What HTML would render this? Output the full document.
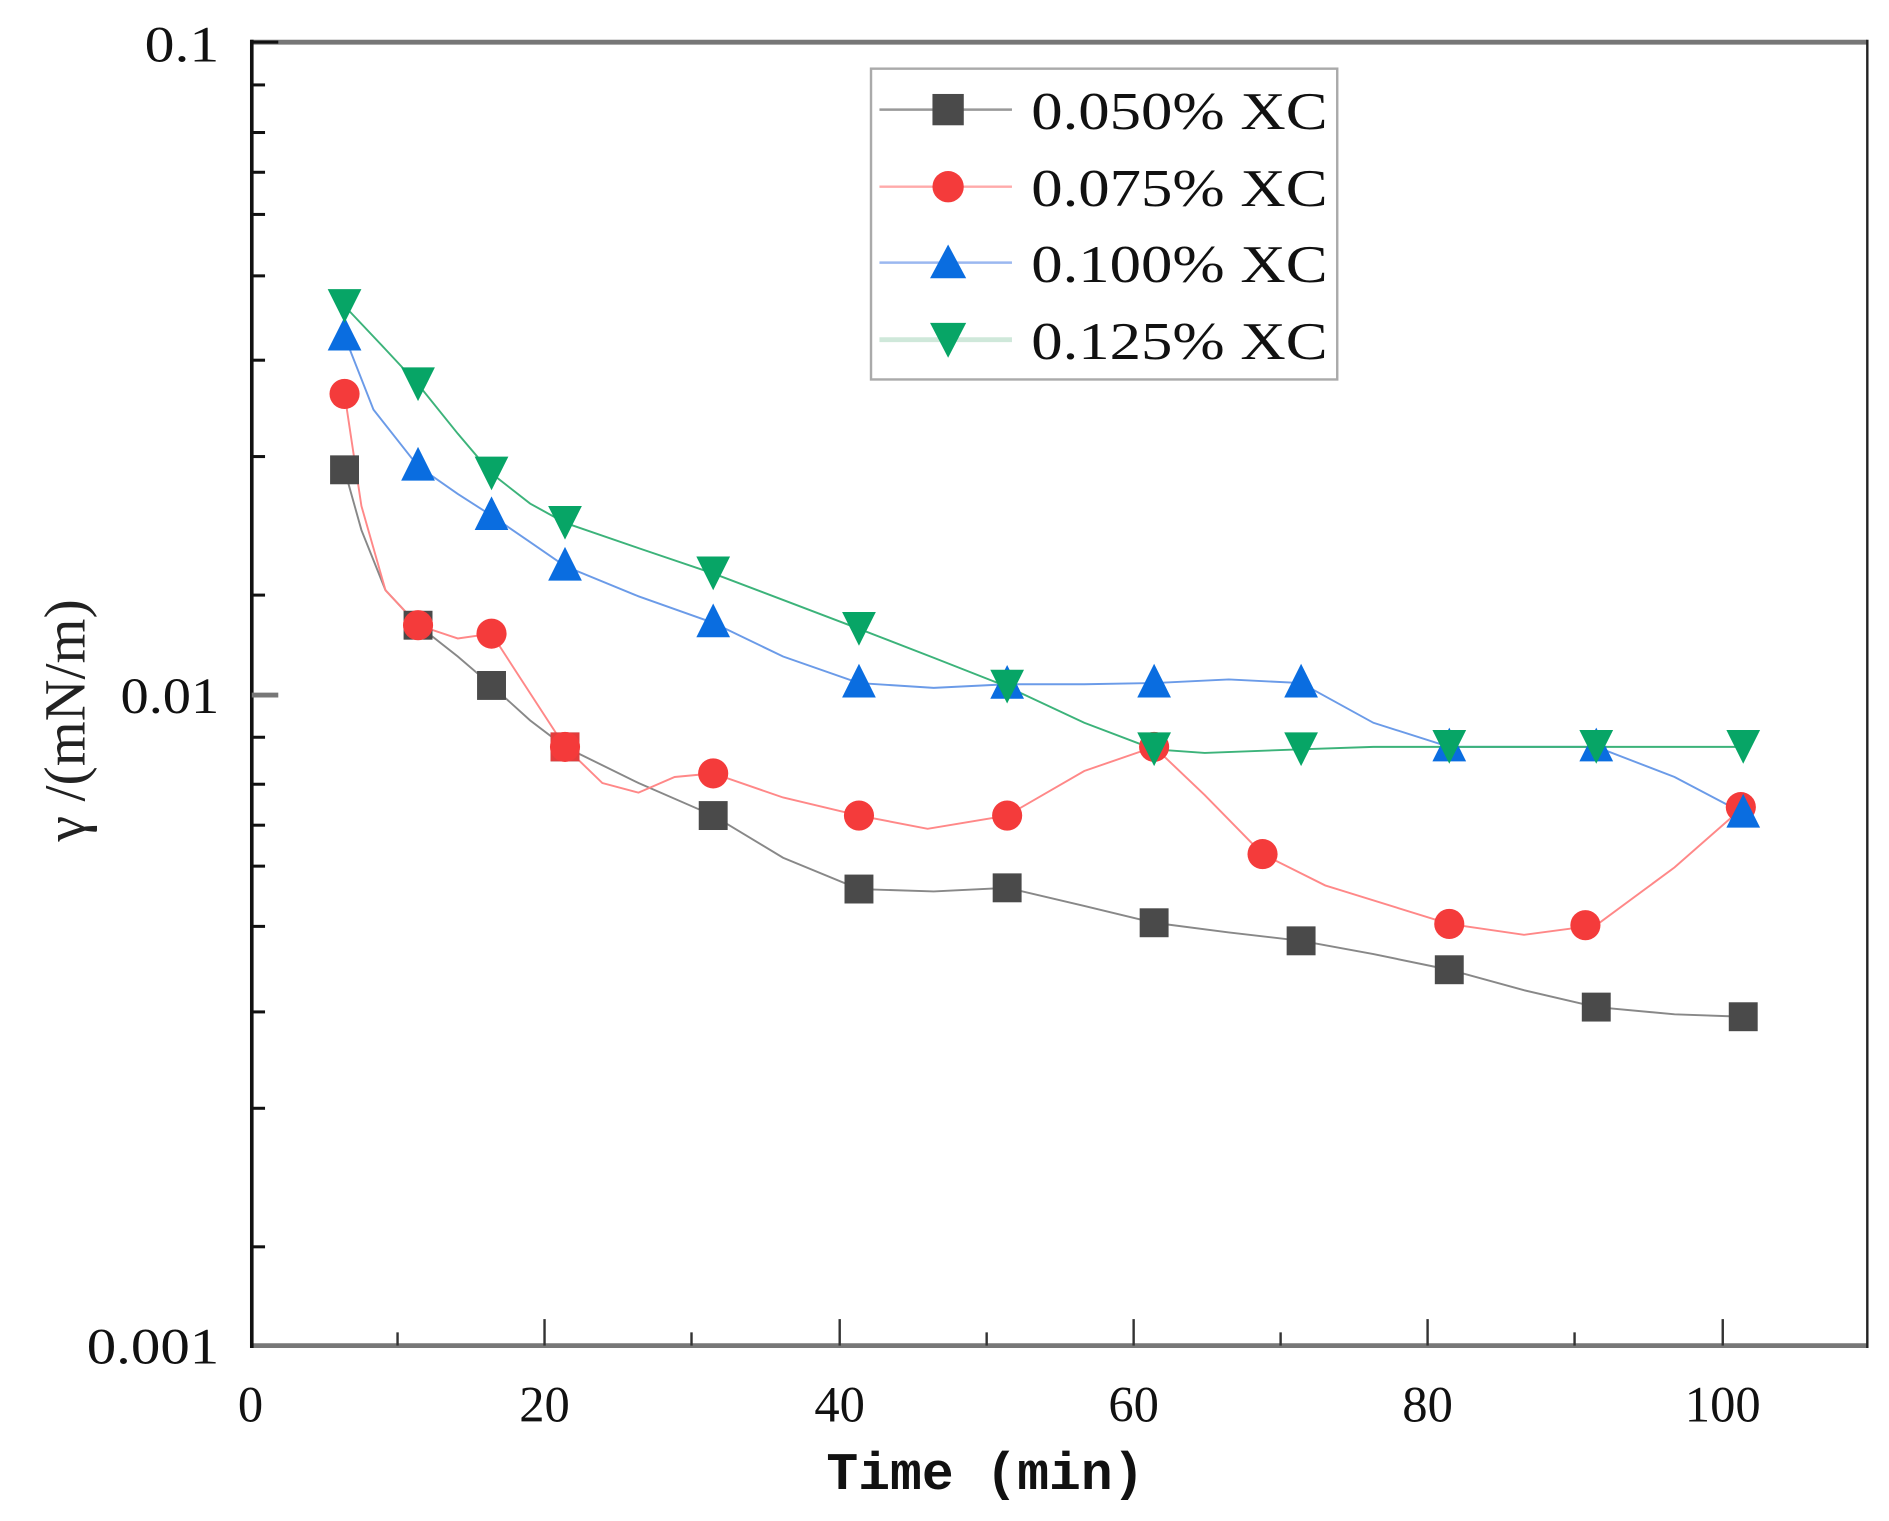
<!DOCTYPE html>
<html><head><meta charset="utf-8"><style>
html,body{margin:0;padding:0;background:#fff;}
svg{display:block;}
</style></head><body>
<svg width="1889" height="1521" viewBox="0 0 1568 1262.6" preserveAspectRatio="none" xmlns="http://www.w3.org/2000/svg">
<rect width="1568" height="1262.6" fill="#fff"/>
<!-- axes -->
<line x1="208" y1="35" x2="1550" y2="35" stroke="#777" stroke-width="4"/>
<line x1="208" y1="1117" x2="1550" y2="1117" stroke="#777" stroke-width="4"/>
<line x1="209" y1="33" x2="209" y2="1119" stroke="#111" stroke-width="3"/>
<line x1="1550" y1="33" x2="1550" y2="1119" stroke="#222" stroke-width="2"/>
<!-- y ticks -->
<g stroke="#111" stroke-width="2.5">
<line x1="209" y1="577" x2="231" y2="577" stroke="#777" stroke-width="4"/>
<line x1="209" y1="35" x2="231" y2="35"/>
<line x1="209" y1="70.5" x2="220" y2="70.5"/><line x1="209" y1="110" x2="220" y2="110"/><line x1="209" y1="143" x2="220" y2="143"/><line x1="209" y1="178" x2="220" y2="178"/><line x1="209" y1="229" x2="220" y2="229"/><line x1="209" y1="299" x2="220" y2="299"/><line x1="209" y1="379" x2="220" y2="379"/><line x1="209" y1="494" x2="220" y2="494"/>
<line x1="209" y1="612" x2="220" y2="612"/><line x1="209" y1="651" x2="220" y2="651"/><line x1="209" y1="685" x2="220" y2="685"/><line x1="209" y1="719" x2="220" y2="719"/><line x1="209" y1="769" x2="220" y2="769"/><line x1="209" y1="840" x2="220" y2="840"/><line x1="209" y1="920" x2="220" y2="920"/><line x1="209" y1="1035" x2="220" y2="1035"/>
</g>
<!-- x ticks -->
<g stroke="#333" stroke-width="2">
<line x1="452" y1="1117" x2="452" y2="1095"/><line x1="697" y1="1117" x2="697" y2="1095"/><line x1="941" y1="1117" x2="941" y2="1095"/><line x1="1185" y1="1117" x2="1185" y2="1095"/><line x1="1430" y1="1117" x2="1430" y2="1095"/>
<line x1="330" y1="1117" x2="330" y2="1106"/><line x1="574" y1="1117" x2="574" y2="1106"/><line x1="819" y1="1117" x2="819" y2="1106"/><line x1="1063" y1="1117" x2="1063" y2="1106"/><line x1="1307" y1="1117" x2="1307" y2="1106"/>
</g>
<!-- tick labels -->
<g font-family="Liberation Serif, serif" font-size="42" fill="#111" text-anchor="end">
<text x="182" y="51" textLength="62" lengthAdjust="spacingAndGlyphs">0.1</text>
<text x="182" y="592" textLength="82" lengthAdjust="spacingAndGlyphs">0.01</text>
<text x="182" y="1132" textLength="110" lengthAdjust="spacingAndGlyphs">0.001</text>
</g>
<g font-family="Liberation Serif, serif" font-size="42" fill="#111" text-anchor="middle">
<text x="208" y="1180">0</text><text x="452" y="1180">20</text><text x="697" y="1180">40</text><text x="941" y="1180">60</text><text x="1185" y="1180">80</text><text x="1430" y="1180">100</text>
</g>
<text x="818" y="1236" font-family="Liberation Mono, monospace" font-weight="bold" font-size="44" fill="#111" text-anchor="middle">Time (min)</text>
<text transform="translate(70,598) rotate(-90)" font-family="Liberation Serif, serif" font-size="48" fill="#222" text-anchor="middle">γ /(mN/m)</text>
<!-- series lines -->
<g fill="none" stroke-width="1.6">
<polyline stroke="#888" points="286,390 300,440 320,490 347,519 380,545 408,569 440,598 469,620 530,650 592,677 650,712 713,738 775,740 836,737 900,752 958,766 1020,774 1080,781 1140,792 1203,805 1265,822 1325,836 1390,842 1447,844"/>
<polyline stroke="#f88" points="286,327 300,420 320,490 347,519 380,530 408,526 430,560 469,620 500,650 530,658 560,645 592,642 650,662 713,677 770,688 836,677 900,640 958,620 1000,660 1048,709 1100,735 1203,767 1265,776 1325,768 1390,720 1447,670"/>
<polyline stroke="#6b9be8" points="286,279 310,340 347,387 380,410 408,428 440,450 469,470 530,495 592,517 650,545 713,567 775,571 836,568 900,568 958,567 1020,564 1080,567 1140,600 1203,620 1265,620 1325,620 1390,645 1447,675"/>
<polyline stroke="#3cb37a" points="286,254 320,290 347,319 380,360 408,393 440,418 469,434 530,455 592,476 650,498 713,522 775,546 836,570 900,600 958,622 1000,625 1080,622 1140,620 1203,620 1325,620 1447,620"/>
</g>
<!-- markers -->
<g fill="#4a4a4a">
<rect x="274" y="378" width="24" height="24"/><rect x="335" y="507" width="24" height="24"/><rect x="396" y="557" width="24" height="24"/><rect x="457" y="608" width="24" height="24"/><rect x="580" y="665" width="24" height="24"/><rect x="701" y="726" width="24" height="24"/><rect x="824" y="725" width="24" height="24"/><rect x="946" y="754" width="24" height="24"/><rect x="1068" y="769" width="24" height="24"/><rect x="1191" y="793" width="24" height="24"/><rect x="1313" y="824" width="24" height="24"/><rect x="1435" y="832" width="24" height="24"/>
</g>
<g fill="#f43b3b">
<circle cx="286" cy="327" r="12.5"/><circle cx="347" cy="519" r="12.5"/><circle cx="408" cy="526" r="12.5"/><circle cx="469" cy="620" r="12.5"/><circle cx="592" cy="642" r="12.5"/><circle cx="713" cy="677" r="12.5"/><circle cx="836" cy="677" r="12.5"/><circle cx="958" cy="620" r="12.5"/><circle cx="1048" cy="709" r="12.5"/><circle cx="1203" cy="767" r="12.5"/><circle cx="1316" cy="768" r="12.5"/><circle cx="1445" cy="670" r="12.5"/>
</g>
<rect x="457" y="608" width="24" height="24" fill="#f43b3b" opacity="0.9"/>
<g fill="#0a6de0">
<polygon points="286,263 272,291 300,291"/><polygon points="347,371 333,399 361,399"/><polygon points="408,412 394,440 422,440"/><polygon points="469,454 455,482 483,482"/><polygon points="592,501 578,529 606,529"/><polygon points="713,551 699,579 727,579"/><polygon points="836,552 822,580 850,580"/><polygon points="958,551 944,579 972,579"/><polygon points="1080,551 1066,579 1094,579"/><polygon points="1203,604 1189,632 1217,632"/><polygon points="1325,604 1311,632 1339,632"/><polygon points="1447,659 1433,687 1461,687"/>
</g>
<g fill="#07a566">
<polygon points="286,268 272,240 300,240"/><polygon points="347,333 333,305 361,305"/><polygon points="408,407 394,379 422,379"/><polygon points="469,448 455,420 483,420"/><polygon points="592,490 578,462 606,462"/><polygon points="713,536 699,508 727,508"/><polygon points="836,584 822,556 850,556"/><polygon points="958,636 944,608 972,608"/><polygon points="1080,636 1066,608 1094,608"/><polygon points="1203,634 1189,606 1217,606"/><polygon points="1325,634 1311,606 1339,606"/><polygon points="1447,634 1433,606 1461,606"/>
</g>
<!-- legend -->
<rect x="723" y="57" width="387" height="258" fill="#fff" stroke="#aaa" stroke-width="2"/>
<g stroke-width="2">
<line x1="730" y1="91" x2="840" y2="91" stroke="#999"/>
<line x1="730" y1="155" x2="840" y2="155" stroke="#faa"/>
<line x1="730" y1="218" x2="840" y2="218" stroke="#9bb8f0"/>
<line x1="730" y1="282" x2="840" y2="282" stroke="#cfe8da" stroke-width="4"/>
</g>
<rect x="774" y="78" width="26" height="26" fill="#4a4a4a"/>
<circle cx="787" cy="155" r="13" fill="#f43b3b"/>
<polygon points="787,203 772,231 802,231" fill="#0a6de0"/>
<polygon points="787,297 772,268 802,268" fill="#07a566"/>
<g font-family="Liberation Serif, serif" font-size="44" fill="#111">
<text x="856" y="107" textLength="246" lengthAdjust="spacingAndGlyphs">0.050% XC</text>
<text x="856" y="171" textLength="246" lengthAdjust="spacingAndGlyphs">0.075% XC</text>
<text x="856" y="234" textLength="246" lengthAdjust="spacingAndGlyphs">0.100% XC</text>
<text x="856" y="298" textLength="246" lengthAdjust="spacingAndGlyphs">0.125% XC</text>
</g>
</svg>
</body></html>
